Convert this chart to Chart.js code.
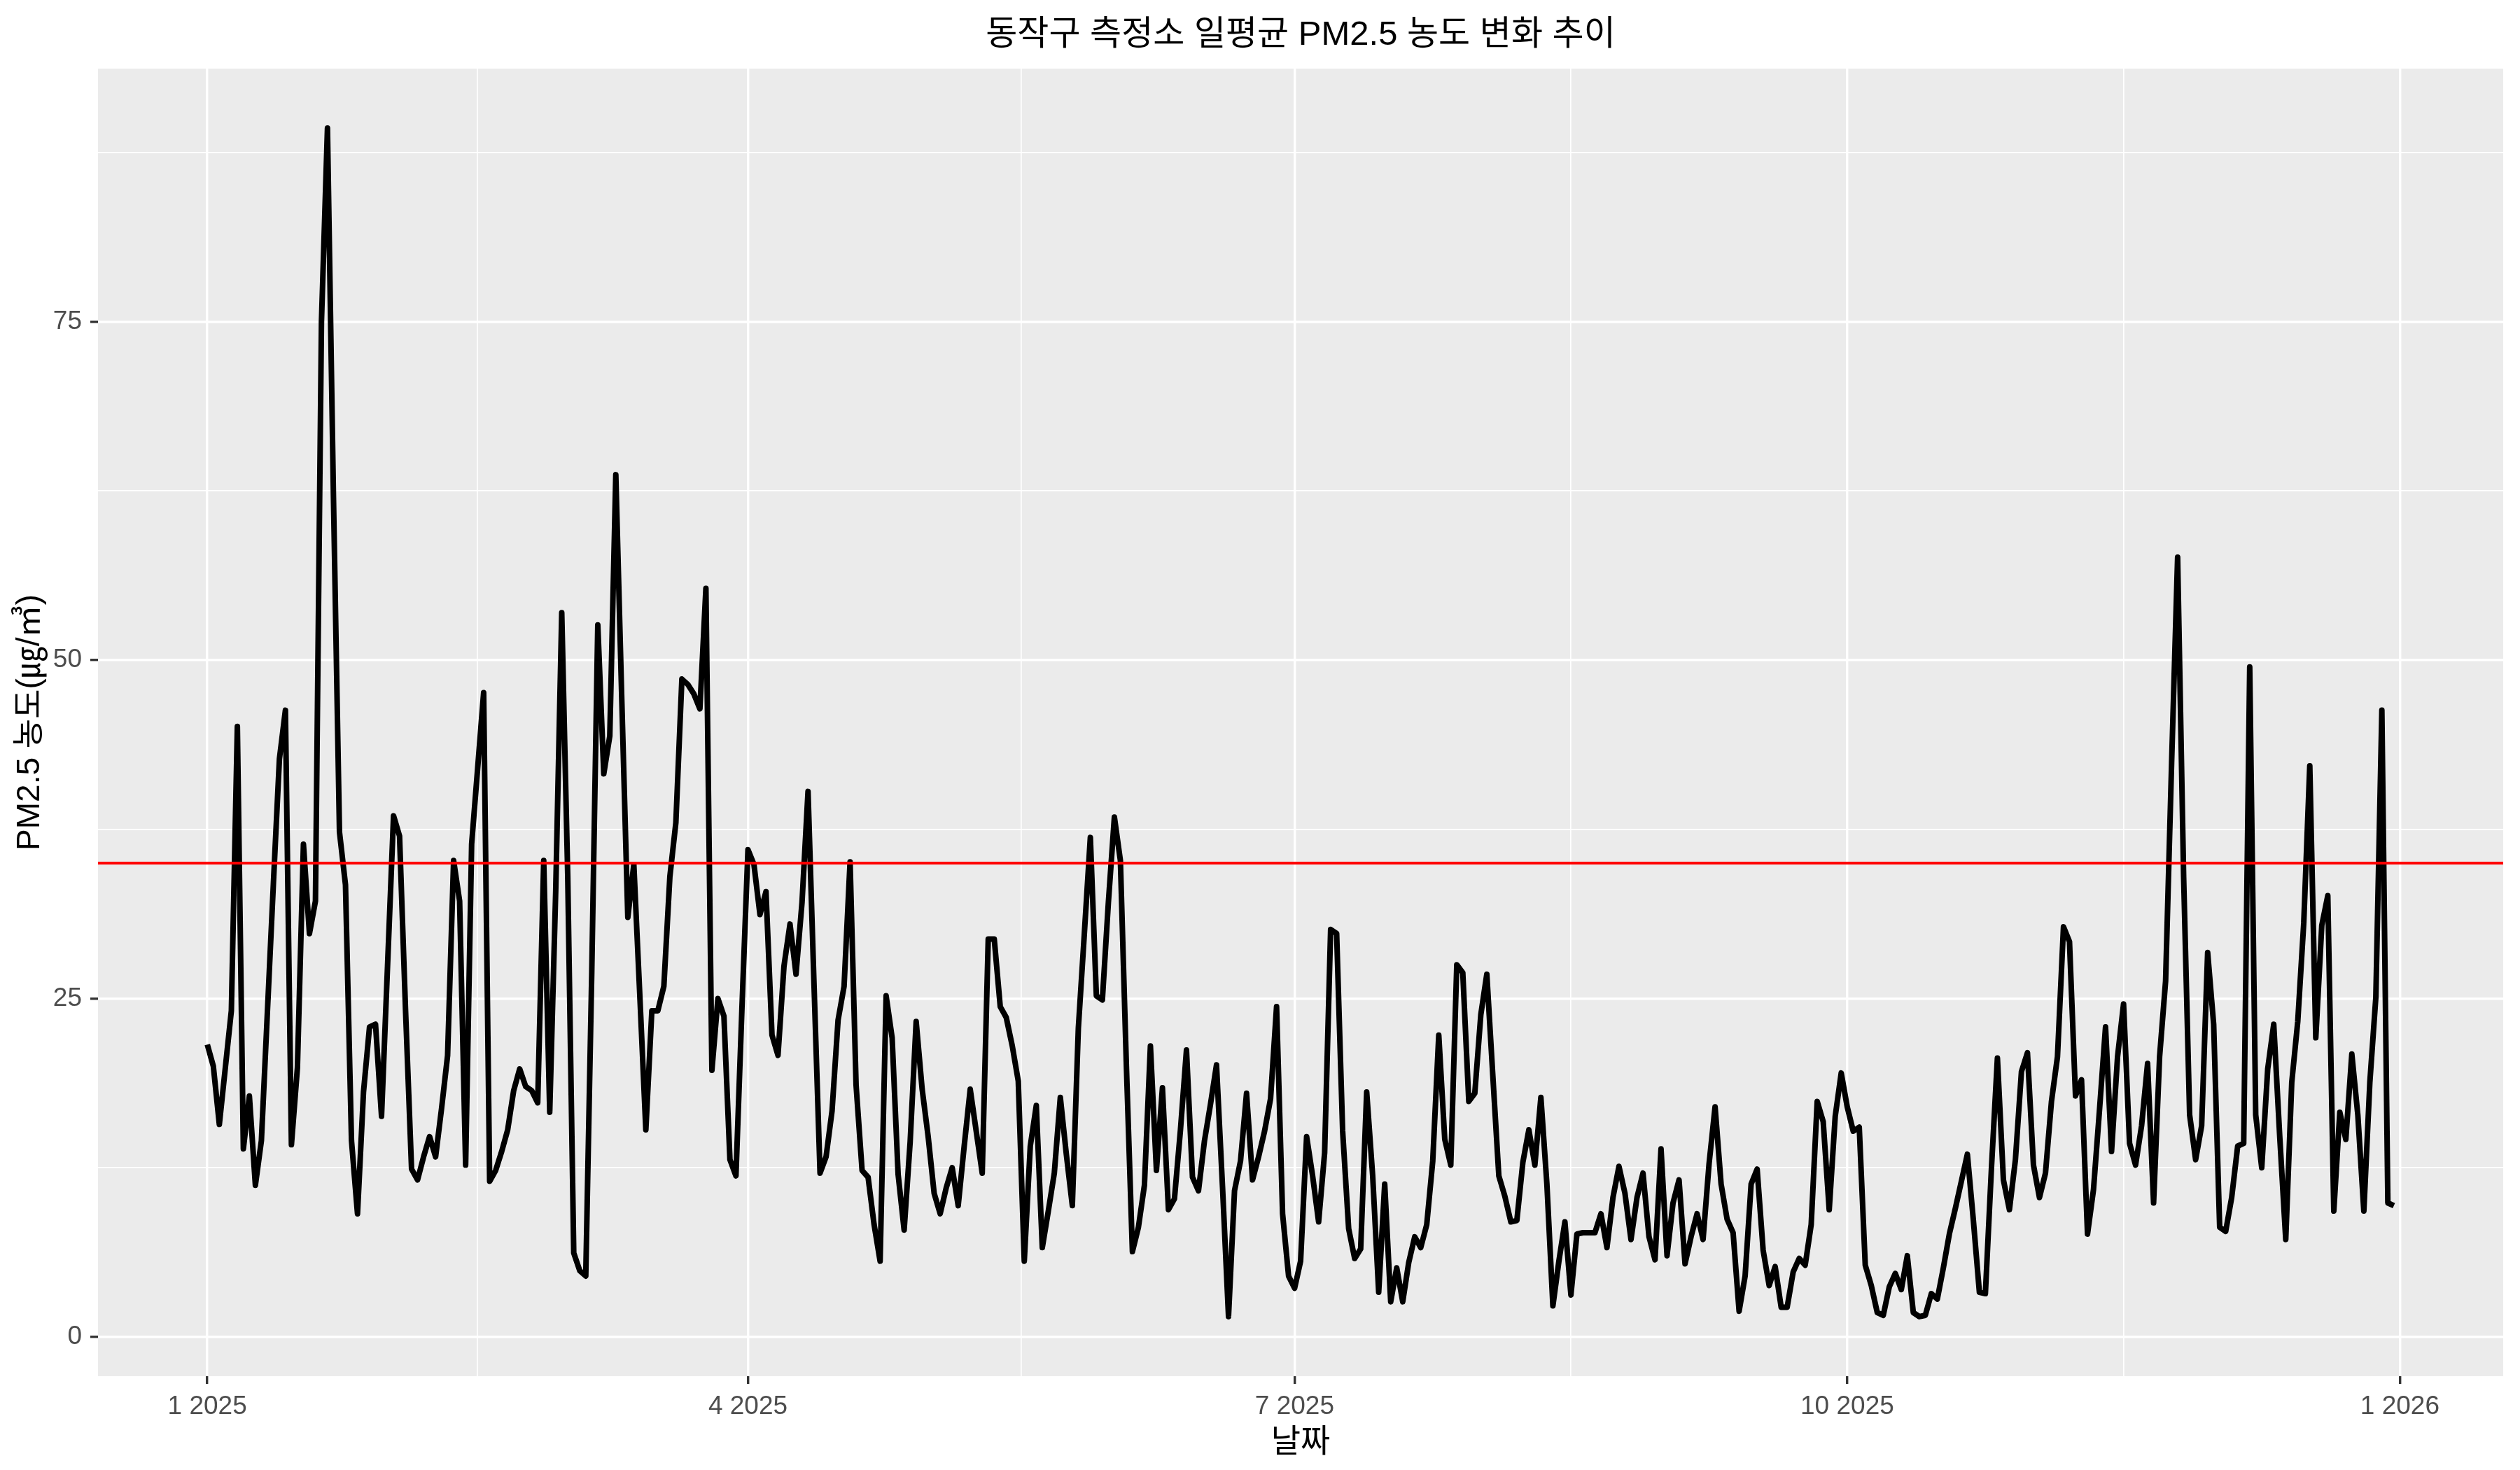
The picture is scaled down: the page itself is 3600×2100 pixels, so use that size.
<!DOCTYPE html>
<html>
<head>
<meta charset="utf-8">
<title>동작구 PM2.5</title>
<script src="https://cdn.jsdelivr.net/npm/chart.js@4.4.1/dist/chart.umd.min.js"></script>
<style>
  html, body { margin: 0; padding: 0; background: #ffffff; }
  canvas { display: block; }
</style>
</head>
<body>
<canvas id="chart" width="3600" height="2100"></canvas>
<script>
// DATA

const startDate = '2025-01-01';   // day 0 of the series
const pm25 = [
  21.6, 20.0, 15.7, 19.9, 24.1, 45.1, 13.9, 17.8, 11.2, 14.5,
  24.0, 33.5, 42.7, 46.3, 14.2, 19.9, 36.4, 29.8, 32.2, 75.0,
  89.3, 62.0, 37.3, 33.4, 14.5, 9.1, 18.1, 22.9, 23.1, 16.3,
  27.4, 38.5, 37.0, 24.1, 12.4, 11.6, 13.3, 14.8, 13.3, 16.9,
  20.8, 35.2, 32.2, 12.7, 36.4, 42.0, 47.6, 11.5, 12.3, 13.7,
  15.3, 18.2, 19.8, 18.5, 18.2, 17.3, 35.2, 16.6, 33.0, 53.5,
  34.0, 6.2, 4.9, 4.5, 27.0, 52.6, 41.6, 44.4, 63.7, 47.0,
  31.0, 34.9, 25.2, 15.3, 24.1, 24.1, 25.9, 34.0, 38.0, 48.6,
  48.2, 47.5, 46.4, 55.3, 19.7, 25.0, 23.7, 13.1, 11.9, 24.3,
  36.0, 34.9, 31.2, 32.9, 22.3, 20.8, 27.4, 30.5, 26.8, 32.1,
  40.3, 26.0, 12.1, 13.3, 16.7, 23.4, 25.9, 35.1, 18.6, 12.3,
  11.8, 8.3, 5.6, 25.2, 22.1, 12.0, 7.9, 14.4, 23.3, 18.3,
  14.8, 10.6, 9.1, 11.0, 12.5, 9.7, 14.1, 18.3, 15.2, 12.1,
  29.4, 29.4, 24.4, 23.6, 21.5, 18.9, 5.6, 14.1, 17.1, 6.6,
  9.3, 12.1, 17.7, 13.5, 9.7, 22.8, 29.8, 36.9, 25.2, 24.9,
  32.1, 38.4, 35.2, 20.0, 6.3, 8.1, 11.2, 21.5, 12.3, 18.4,
  9.4, 10.2, 15.3, 21.2, 11.8, 10.8, 14.5, 17.2, 20.1, 11.1,
  1.5, 10.8, 13.0, 18.0, 11.6, 13.3, 15.2, 17.6, 24.4, 9.1,
  4.5, 3.6, 5.6, 14.8, 11.9, 8.5, 13.6, 30.1, 29.8, 15.2,
  8.0, 5.8, 6.5, 18.1, 11.9, 3.3, 11.3, 2.6, 5.1, 2.6,
  5.5, 7.4, 6.6, 8.3, 13.0, 22.3, 14.6, 12.7, 27.5, 26.9,
  17.4, 18.0, 23.8, 26.8, 19.3, 11.9, 10.4, 8.5, 8.6, 12.9,
  15.3, 12.7, 17.7, 11.3, 2.3, 5.6, 8.5, 3.1, 7.6, 7.7,
  7.7, 7.7, 9.1, 6.6, 10.3, 12.6, 10.6, 7.2, 10.3, 12.1,
  7.4, 5.7, 13.9, 6.0, 9.9, 11.6, 5.4, 7.4, 9.1, 7.2,
  12.8, 17.0, 11.3, 8.7, 7.7, 1.9, 4.5, 11.3, 12.4, 6.4,
  3.8, 5.2, 2.2, 2.2, 4.8, 5.8, 5.3, 8.3, 17.4, 15.9,
  9.4, 16.3, 19.5, 17.0, 15.2, 15.5, 5.3, 3.8, 1.8, 1.6,
  3.7, 4.7, 3.5, 6.0, 1.8, 1.5, 1.6, 3.2, 2.8, 5.1,
  7.6, 9.5, 11.5, 13.5, 8.6, 3.3, 3.2, 12.4, 20.6, 11.6,
  9.4, 13.1, 19.6, 21.0, 12.7, 10.3, 12.1, 17.4, 20.7, 30.3,
  29.2, 17.8, 19.0, 7.6, 10.9, 16.8, 22.9, 13.7, 20.7, 24.6,
  14.3, 12.7, 15.6, 20.2, 9.9, 20.7, 26.3, 42.4, 57.6, 34.0,
  16.4, 13.1, 15.6, 28.4, 23.1, 8.1, 7.8, 10.3, 14.1, 14.3,
  49.5, 16.4, 12.5, 19.8, 23.1, 14.8, 7.2, 18.8, 23.3, 30.6,
  42.2, 22.1, 30.4, 32.6, 9.3, 16.6, 14.6, 20.9, 16.4, 9.3,
  18.8, 25.1, 46.3, 9.9, 9.7
];
const threshold = 35;

// x ticks are days since startDate
const xTickDays = [0, 90, 181, 273, 365];
const xTickLabels = ['1 2025', '4 2025', '7 2025', '10 2025', '1 2026'];
const xMinorDays = [45, 135.5, 227, 319];
const yTicks = [0, 25, 50, 75];
const yMinor = [12.5, 37.5, 62.5, 87.5];

const titleText = '동작구 측정소 일평균 PM2.5 농도 변화 추이';
const xTitle = '날짜';
const yTitle = 'PM2.5 농도(㎍/㎥)';

const FONT = "'Liberation Sans', 'Noto Sans CJK KR', sans-serif";

// ggplot-ish expansion (5%)
const xMin = -18.2, xMax = 382.2;
const yMin = -2.9, yMax = 93.7;

// PLUGINS

const panel = {
  id: 'panel',
  beforeDraw(chart) {
    const {ctx, chartArea: a} = chart;
    ctx.save();
    ctx.fillStyle = '#EBEBEB';
    ctx.fillRect(a.left, a.top, a.right - a.left, a.bottom - a.top);
    ctx.restore();
  },
  afterDraw(chart) {
    const {ctx, chartArea: a} = chart;
    ctx.save();
    ctx.fillStyle = '#000000';
    ctx.font = '49px ' + FONT;
    ctx.textAlign = 'center';
    ctx.textBaseline = 'middle';
    ctx.fillText(titleText, (a.left + a.right) / 2, 50);
    ctx.restore();
  }
};

const isMajor = (list, v) => list.indexOf(v) !== -1;

// CHART

const ctx = document.getElementById('chart');

const myChart = new Chart(ctx, {
  type: 'line',
  data: {
    datasets: [
      {
        label: 'limit',
        data: [{x: xMin, y: threshold}, {x: xMax, y: threshold}],
        borderColor: '#FF0000',
        borderWidth: 4,
        pointRadius: 0,
        order: 0,
      },
      {
        label: 'PM2.5',
        data: pm25.map((v, i) => ({x: i, y: v})),
        borderColor: '#000000',
        borderWidth: 8,
        borderJoinStyle: 'round',
        pointRadius: 0,
        tension: 0,
        order: 1,
      },
    ]
  },
  options: {
    responsive: false,
    animation: false,
    devicePixelRatio: 1,
    layout: {padding: {top: 98, right: 24, left: 0, bottom: 0}},
    plugins: {
      legend: {display: false},
      title: {display: false},
      tooltip: {enabled: false},
    },
    scales: {
      x: {
        type: 'linear',
        min: xMin,
        max: xMax,
        afterBuildTicks: (s) => {
          s.ticks = xTickDays.concat(xMinorDays).sort((a, b) => a - b).map(v => ({value: v}));
        },
        afterFit: (s) => { s.height = 134; },
        border: {display: false},
        grid: {
          color: '#FFFFFF',
          lineWidth: (c) => isMajor(xTickDays, c.tick.value) ? 3.4 : 1.7,
          tickColor: (c) => isMajor(xTickDays, c.tick.value) ? '#333333' : 'rgba(0,0,0,0)',
          tickWidth: 3.4,
          tickLength: 11,
        },
        ticks: {
          autoSkip: false,
          maxRotation: 0,
          padding: 11,
          color: '#4D4D4D',
          font: {family: FONT, size: 37},
          callback: (v) => {
            const k = xTickDays.indexOf(v);
            return k === -1 ? '' : xTickLabels[k];
          },
        },
        title: {
          display: true,
          text: xTitle,
          color: '#000000',
          font: {family: FONT, size: 46},
          padding: {top: 0, bottom: 11},
        },
      },
      y: {
        type: 'linear',
        min: yMin,
        max: yMax,
        afterBuildTicks: (s) => {
          s.ticks = yTicks.concat(yMinor).sort((a, b) => a - b).map(v => ({value: v}));
        },
        afterFit: (s) => { s.width = 140; },
        border: {display: false},
        grid: {
          color: '#FFFFFF',
          lineWidth: (c) => isMajor(yTicks, c.tick.value) ? 3.4 : 1.7,
          tickColor: (c) => isMajor(yTicks, c.tick.value) ? '#333333' : 'rgba(0,0,0,0)',
          tickWidth: 3.4,
          tickLength: 11,
        },
        ticks: {
          autoSkip: false,
          padding: 12,
          color: '#4D4D4D',
          font: {family: FONT, size: 37},
          callback: (v) => isMajor(yTicks, v) ? String(v) : '',
        },
        title: {
          display: true,
          text: yTitle,
          color: '#000000',
          font: {family: FONT, size: 46},
          padding: {top: 16, bottom: 0},
        },
      },
    },
  },
  plugins: [panel],
});
</script>
</body>
</html>
